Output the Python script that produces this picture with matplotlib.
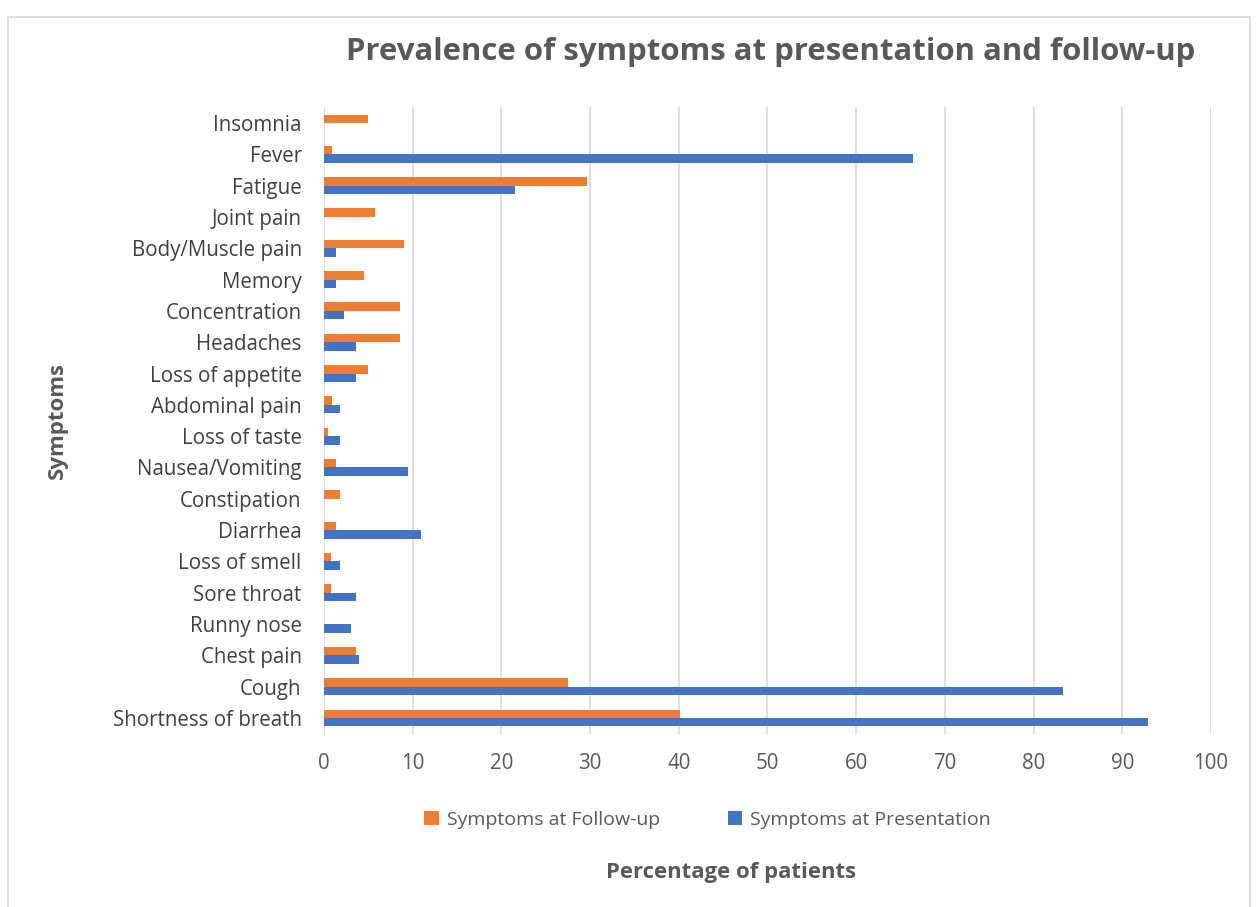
import matplotlib
matplotlib.use("Agg")
import matplotlib.pyplot as plt
from matplotlib.patches import Rectangle
import numpy as np

categories = ["Insomnia", "Fever", "Fatigue", "Joint pain", "Body/Muscle pain", "Memory",
              "Concentration", "Headaches", "Loss of appetite", "Abdominal pain", "Loss of taste",
              "Nausea/Vomiting", "Constipation", "Diarrhea", "Loss of smell", "Sore throat",
              "Runny nose", "Chest pain", "Cough", "Shortness of breath"]
followup = [5.0, 0.9, 29.7, 5.8, 9.0, 4.5, 8.6, 8.6, 5.0, 0.9, 0.5, 1.4, 1.8, 1.4, 0.8, 0.8,
            0.0, 3.6, 27.5, 40.1]
presentation = [0.0, 66.4, 21.5, 0.0, 1.4, 1.4, 2.3, 3.6, 3.6, 1.8, 1.8, 9.5, 0.0, 10.9, 1.8, 3.6,
                3.1, 4.0, 83.3, 92.9]
xticks = list(range(0, 101, 10))

plt.rcParams['font.family'] = ['Open Sans', 'DejaVu Sans']

fig = plt.figure(figsize=(12.59, 9.07), dpi=100)
ax = fig.add_axes([0.2573, 0.1911, 0.9619 - 0.2573, 0.8817 - 0.1911])

orange = "#ED7D31"
blue = "#4472C4"
y = np.arange(len(categories))
h = 0.27
ax.barh(y - h / 2, followup, height=h, color=orange, label="Symptoms at Follow-up", zorder=3)
ax.barh(y + h / 2, presentation, height=h, color=blue, label="Symptoms at Presentation", zorder=3)

ax.set_ylim(len(categories) - 0.5, -0.5)
ax.set_xlim(0, 100)
ax.set_xticks(xticks)
ax.set_yticks(y)
ax.set_yticklabels(categories, fontsize=14.8, color="#404040")
ax.tick_params(axis='x', labelsize=14.8, labelcolor="#595959", length=0, pad=14)
ax.tick_params(axis='y', length=0, pad=16)
ax.grid(axis='x', color="#d9d9d9", linewidth=1.2, zorder=0)
for s in ax.spines.values():
    s.set_visible(False)

fig.text(0.612, 0.943, "Prevalence of symptoms at presentation and follow-up", ha="center", va="center",
         fontsize=22.4, fontweight="bold", color="#595959")
fig.text(0.581, 0.038, "Percentage of patients", ha="center", va="center",
         fontsize=15.9, fontweight="bold", color="#595959")
fig.text(0.046, 0.536, "Symptoms", ha="center", va="center", rotation=90,
         fontsize=16, fontweight="bold", color="#595959")

leg = fig.legend(loc="center", bbox_to_anchor=(0.562, 0.096), ncol=2, frameon=False,
                 fontsize=14, handlelength=0.75, handleheight=0.75, columnspacing=3.5,
                 handletextpad=0.4)
for t in leg.get_texts():
    t.set_color("#595959")

fig.patches.append(Rectangle((0.006, -0.01), 0.987, 1.001 - 0.01, transform=fig.transFigure,
                             fill=False, edgecolor="#d9d9d9", linewidth=1.2))

fig.savefig("out.png", dpi=100)
